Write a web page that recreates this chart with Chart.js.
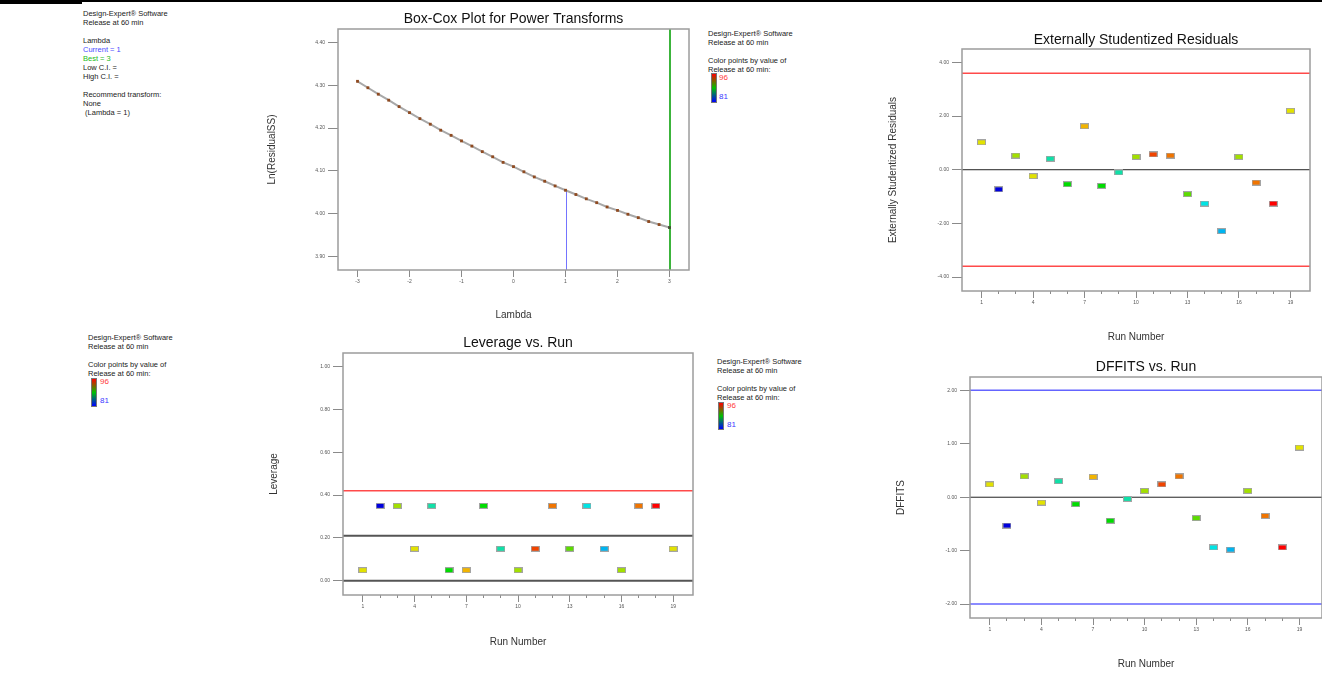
<!DOCTYPE html>
<html><head><meta charset="utf-8">
<script src="https://cdn.jsdelivr.net/npm/chart.js@4.4.1/dist/chart.umd.min.js"></script>
<style>
html,body{margin:0;padding:0;background:#fff;overflow:hidden;width:1322px;height:673px;position:relative;font-family:"Liberation Sans",Arial,sans-serif;}
canvas{position:absolute;}
.leg{position:absolute;font-size:7.5px;line-height:9px;color:#222;white-space:pre;}
.bar{position:absolute;width:6px;background:linear-gradient(#ff0000,#00c000 50%,#0000ff);border:1px solid #777;box-sizing:border-box;}
.hi{position:absolute;font-size:8px;line-height:8px;color:#ff3b3b;}
.lo{position:absolute;font-size:8px;line-height:8px;color:#3b3bff;}
</style></head><body>
<div style="position:absolute;left:0;top:0;width:82px;height:4px;background:#000"></div>
<div style="position:absolute;left:82px;top:0;width:1240px;height:2px;background:#000"></div>

<div class="leg" style="left:83px;top:8.5px">Design-Expert® Software
Release at 60 min

Lambda
<span style="color:#4a4aff">Current = 1</span>
<span style="color:#22bb22">Best = 3</span>
Low C.I. =
High C.I. =

Recommend transform:
None
 (Lambda = 1)</div>

<div class="leg" style="left:708px;top:28.5px">Design-Expert® Software
Release at 60 min

Color points by value of
Release at 60 min:</div>
<div class="bar" style="left:711px;top:73px;height:30px"></div>
<div class="hi" style="left:719px;top:74px">96</div>
<div class="lo" style="left:719px;top:93px">81</div>

<div class="leg" style="left:88px;top:332.5px">Design-Expert® Software
Release at 60 min

Color points by value of
Release at 60 min:</div>
<div class="bar" style="left:91px;top:378px;height:29px"></div>
<div class="hi" style="left:100px;top:378px">96</div>
<div class="lo" style="left:100px;top:397px">81</div>

<div class="leg" style="left:717px;top:356.5px">Design-Expert® Software
Release at 60 min

Color points by value of
Release at 60 min:</div>
<div class="bar" style="left:718px;top:402px;height:28px"></div>
<div class="hi" style="left:727px;top:402px">96</div>
<div class="lo" style="left:727px;top:421px">81</div>

<script>
// ---------- data ----------
const lambdas = [-3,-2.8,-2.6,-2.4,-2.2,-2,-1.8,-1.6,-1.4,-1.2,-1,-0.8,-0.6,-0.4,-0.2,0,0.2,0.4,0.6,0.8,1,1.2,1.4,1.6,1.8,2,2.2,2.4,2.6,2.8,3];
const lnResidualSS = [4.309,4.294,4.279,4.265,4.250,4.236,4.222,4.209,4.195,4.183,4.170,4.158,4.145,4.133,4.120,4.110,4.098,4.086,4.076,4.065,4.055,4.045,4.035,4.026,4.016,4.008,3.999,3.991,3.982,3.975,3.968];
const lambdaCurrent = 1;
const lambdaBest = 3;
const boxCoxTicksX = [-3,-2,-1,0,1,2,3];
const boxCoxTicksY = [3.90,4.00,4.10,4.20,4.30,4.40];

const runNumbers = [1,2,3,4,5,6,7,8,9,10,11,12,13,14,15,16,17,18,19];
const runTickLabels = [1,4,7,10,13,16,19];
const extStudentizedResiduals = [1.02,-0.73,0.53,-0.24,0.41,-0.54,1.62,-0.60,-0.10,0.48,0.57,0.53,-0.91,-1.26,-2.29,0.48,-0.48,-1.26,2.20];
const residualLimits = [3.6,-3.6];
const residTicksY = [-4,-2,0,2,4];
const leverageValues = [0.05,0.35,0.35,0.15,0.35,0.05,0.05,0.35,0.15,0.05,0.15,0.35,0.15,0.35,0.15,0.05,0.35,0.35,0.15];
const leverageLimit = 0.42;
const leverageAverage = 0.21;
const leverageTicksY = [0,0.2,0.4,0.6,0.8,1.0];
const dffitsValues = [0.24,-0.53,0.39,-0.10,0.30,-0.13,0.38,-0.44,-0.03,0.12,0.24,0.39,-0.39,-0.94,-0.98,0.12,-0.35,-0.94,0.93];
const dffitsLimits = [2,-2];
const dffitsTicksY = [-2,-1,0,1,2];
// colour of each run (by value of Release at 60 min)
const runColors = ['#e2e200','#0000dd','#a2e000','#e2e200','#10e0a8','#00dc00','#f2b400','#00dc00','#10e0a8','#a2e000','#f04400','#f07400','#5cdc00','#00e4e4','#00b4f0','#a2e000','#f07400','#ff0000','#e2e200'];

// ---------- helpers ----------
const FONT = '"Liberation Sans", Arial, sans-serif';

function markerImg(color){
  const c=document.createElement('canvas'); c.width=9; c.height=6;
  const g=c.getContext('2d');
  g.fillStyle='#a4a4a4'; g.fillRect(0,0,9,6);
  g.fillStyle=color; g.fillRect(1,1,7,4);
  return c;
}
const markers = runColors.map(markerImg);

const deco = {
  id:'panelDeco',
  beforeDatasetsDraw(chart, args, opts){
    const {ctx, chartArea:a} = chart; const x=chart.scales.x, y=chart.scales.y;
    ctx.save();
    (opts.h||[]).forEach(h=>{
      const py=y.getPixelForValue(h.value);
      ctx.beginPath(); ctx.strokeStyle=h.color; ctx.lineWidth=h.width;
      ctx.moveTo(a.left,py); ctx.lineTo(a.right,py); ctx.stroke();
    });
    (opts.v||[]).forEach(v=>{
      const px=Math.round(x.getPixelForValue(v.value))+(v.width%2?0.5:0);
      const y1 = v.to==null ? a.top : y.getPixelForValue(v.to);
      ctx.beginPath(); ctx.strokeStyle=v.color; ctx.lineWidth=v.width;
      ctx.moveTo(px,a.bottom); ctx.lineTo(px,y1); ctx.stroke();
    });
    ctx.restore();
  },
  afterDraw(chart, args, opts){
    const {ctx, chartArea:a} = chart;
    ctx.save();
    ctx.strokeStyle='#9c9c9c'; ctx.lineWidth=1.5;
    ctx.strokeRect(a.left,a.top,a.right-a.left,a.bottom-a.top);
    ctx.fillStyle='#111'; ctx.font='14px '+FONT; ctx.textAlign='center'; ctx.textBaseline='middle';
    ctx.fillText(opts.title,(a.left+a.right)/2,opts.titleY);
    ctx.restore();
  }
};

function makeChart(o){
  const c=document.createElement('canvas');
  c.width=o.cw; c.height=o.ch; c.style.left=o.cx+'px'; c.style.top=o.cy+'px';
  document.body.appendChild(c);
  const yW=o.plot.l-o.cx, xH=(o.cy+o.ch)-o.plot.b;
  const padTop=o.plot.t-o.cy, padRight=o.cx+o.cw-o.plot.r;
  const labeled = o.xLabeled;
  return new Chart(c,{
    type:'scatter',
    data:{datasets:o.datasets},
    options:{
      responsive:false, animation:false, devicePixelRatio:1,
      layout:{padding:{top:padTop,right:padRight,left:0,bottom:0}},
      plugins:{legend:{display:false},tooltip:{enabled:false},
        panelDeco:{title:o.title,titleY:o.titleY-o.cy,h:o.hLines||[],v:o.vLines||[]}},
      scales:{
        x:{type:'linear',min:o.xMin,max:o.xMax,bounds:'data',
          afterBuildTicks:s=>{s.ticks=o.xTicks.map(v=>({value:v}));},
          afterFit:s=>{s.height=xH;},
          ticks:{autoSkip:false,maxRotation:0,minRotation:0,padding:2,color:'#555',font:{size:5,family:FONT},
            callback:v=>labeled.includes(v)?String(v):''},
          grid:{drawOnChartArea:false,drawTicks:true,tickLength:7,tickColor:'#8a8a8a',tickWidth:1,
            tickBorderDash:ctx=>(ctx.tick&&labeled.includes(ctx.tick.value))?[]:[3,30]},
          border:{display:false},
          title:{display:true,text:o.xTitle,color:'#333',font:{size:10,family:FONT,lineHeight:1.2},padding:0}},
        y:{type:'linear',min:o.yMin,max:o.yMax,bounds:'data',
          afterBuildTicks:s=>{s.ticks=o.yTicks.map(v=>({value:v}));},
          afterFit:s=>{s.width=yW;},
          ticks:{autoSkip:false,padding:3,color:'#555',font:{size:5,family:FONT},callback:v=>v.toFixed(2)},
          grid:{drawOnChartArea:false,drawTicks:true,tickLength:10,tickColor:'#8a8a8a',tickWidth:1},
          border:{display:false},
          title:{display:true,text:o.yTitle,color:'#333',font:{size:10,family:FONT,lineHeight:1.2},padding:0}}
      }
    },
    plugins:[deco]
  });
}

function runDataset(vals){
  return {data:runNumbers.map((r,i)=>({x:r,y:vals[i]})),pointStyle:markers,pointRadius:4,pointHoverRadius:4};
}

// Box-Cox
const curveAtCurrent = lnResidualSS[lambdas.indexOf(lambdaCurrent)];
makeChart({
  cx:266,cy:6,cw:427,ch:315,plot:{l:338,t:29,r:691,b:270},
  title:'Box-Cox Plot for Power Transforms',titleY:19,
  xTitle:'Lambda',yTitle:'Ln(ResidualSS)',
  xMin:-3.375,xMax:3.375,yMin:3.869,yMax:4.431,
  xTicks:boxCoxTicksX,xLabeled:boxCoxTicksX,yTicks:boxCoxTicksY,
  vLines:[{value:lambdaCurrent,to:curveAtCurrent,color:'#7474ff',width:1},{value:lambdaBest,color:'#3cb43c',width:2}],
  datasets:[{data:lambdas.map((l,i)=>({x:l,y:lnResidualSS[i]})),showLine:true,borderColor:'#a8a8a8',borderWidth:2,
    pointStyle:'rect',pointRadius:2,pointBorderWidth:0,
    pointBackgroundColor:lambdas.map(l=>l===lambdaBest?'#3f4f30':'#8f4a20')}]
});

// Externally studentized residuals
makeChart({
  cx:887,cy:26,cw:428,ch:317,plot:{l:962,t:49,r:1313,b:291},
  title:'Externally Studentized Residuals',titleY:40,
  xTitle:'Run Number',yTitle:'Externally Studentized Residuals',
  xMin:-0.14,xMax:20.14,yMin:-4.52,yMax:4.50,
  xTicks:runNumbers,xLabeled:runTickLabels,yTicks:residTicksY,
  hLines:[{value:residualLimits[0],color:'#ff4a4a',width:1.5},{value:residualLimits[1],color:'#ff4a4a',width:1.5},{value:0,color:'#222',width:1}],
  datasets:[runDataset(extStudentizedResiduals)]
});

// Leverage
makeChart({
  cx:268,cy:333,cw:430,ch:315,plot:{l:343,t:353,r:696,b:595},
  title:'Leverage vs. Run',titleY:343,
  xTitle:'Run Number',yTitle:'Leverage',
  xMin:-0.15,xMax:20.15,yMin:-0.066,yMax:1.063,
  xTicks:runNumbers,xLabeled:runTickLabels,yTicks:leverageTicksY,
  hLines:[{value:leverageLimit,color:'#ff4a4a',width:1.5},{value:leverageAverage,color:'#555',width:2},{value:0,color:'#555',width:2}],
  datasets:[runDataset(leverageValues)]
});

// DFFITS (plot runs off the right edge of the page)
makeChart({
  cx:895,cy:355,cw:432,ch:315,plot:{l:970,t:377,r:1325,b:618},
  title:'DFFITS vs. Run',titleY:367,
  xTitle:'Run Number',yTitle:'DFFITS',
  xMin:-0.15,xMax:20.31,yMin:-2.26,yMax:2.25,
  xTicks:runNumbers,xLabeled:runTickLabels,yTicks:dffitsTicksY,
  hLines:[{value:dffitsLimits[0],color:'#6464ff',width:1.5},{value:dffitsLimits[1],color:'#6464ff',width:1.5},{value:0,color:'#222',width:1}],
  datasets:[runDataset(dffitsValues)]
});
</script>
</body></html>
